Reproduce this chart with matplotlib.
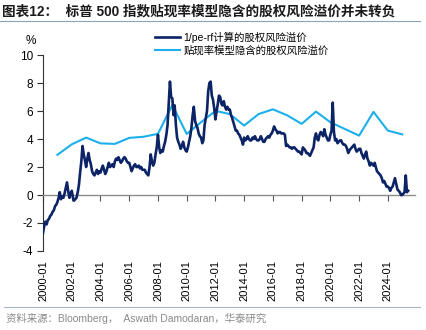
import numpy as np
import pandas as pd
import matplotlib
matplotlib.use("Agg")
import matplotlib.pyplot as plt
import matplotlib.dates as mdates
from matplotlib.transforms import blended_transform_factory

plt.rcParams["font.family"] = ["Liberation Sans", "Noto Sans CJK SC", "DejaVu Sans"]

# 1/PE - 无风险利率，月度，2000-01 至 2025-06
pe_rf_months = pd.date_range("2000-01-01", "2025-06-01", freq="MS")
pe_rf_values = [
    -2.7, -2.2, -1.9, -2.1, -1.8, -1.7, -1.5, -1.4, -1.2, -1.1, -0.8, -0.7,   # 2000
    -0.5, -0.2, 0.2, -0.3, -0.1, -0.2, 0.1, 0.5, 0.9, 0.3, -0.2, 0.1,         # 2001
    0.3, -0.2, -0.4, -0.3, -0.2, 0.2, 0.7, 1.6, 2.4, 3.5, 2.9, 2.5,           # 2002
    2.0, 2.6, 3.0, 2.5, 2.2, 1.7, 1.5, 1.4, 1.6, 1.8, 1.5, 1.7,               # 2003
    1.6, 1.9, 2.1, 1.8, 1.5, 1.7, 2.0, 2.3, 2.0, 2.1, 2.2, 2.0,               # 2004
    2.4, 2.6, 2.5, 2.7, 2.5, 2.3, 2.4, 2.6, 2.7, 2.6, 2.4, 2.3,               # 2005
    2.3, 2.0, 1.7, 1.9, 2.1, 2.2, 2.0, 2.0, 2.1, 1.9, 2.0, 1.8,               # 2006
    1.8, 1.8, 1.6, 1.5, 1.4, 2.0, 2.9, 2.4, 2.1, 2.3, 2.9, 3.4,               # 2007
    4.3, 3.4, 3.0, 3.2, 3.1, 3.5, 3.8, 4.3, 5.0, 6.5, 8.1, 7.0,               # 2008
    6.9, 5.7, 6.4, 5.0, 4.1, 3.8, 3.6, 3.3, 3.5, 3.8, 3.4, 3.2,               # 2009
    3.1, 3.4, 3.8, 4.2, 4.8, 5.7, 6.3, 5.3, 5.0, 4.8, 4.4, 4.2,               # 2010
    4.1, 3.7, 3.9, 5.0, 5.5, 6.0, 7.4, 8.0, 8.1, 7.1, 6.8, 6.2,               # 2011
    5.4, 6.0, 6.5, 7.1, 7.0, 6.5, 6.4, 6.7, 6.3, 6.1, 6.3, 6.1,               # 2012
    6.1, 5.7, 5.5, 5.2, 4.9, 4.6, 4.6, 4.4, 4.3, 4.1, 3.9, 3.6,               # 2013
    4.1, 3.9, 4.0, 4.2, 4.0, 3.9, 3.9, 4.1, 4.0, 4.2, 4.0, 3.9,               # 2014
    3.9, 4.0, 4.2, 4.0, 3.8, 3.8, 4.0, 4.1, 4.2, 4.1, 4.3, 4.4,               # 2015
    4.6, 4.9, 4.7, 4.6, 4.4, 4.5, 4.5, 4.4, 4.4, 4.4, 4.3, 3.5,               # 2016
    3.6, 3.5, 3.4, 3.4, 3.3, 3.4, 3.4, 3.3, 3.2, 3.1, 3.1, 3.0,               # 2017
    2.9, 3.4, 3.3, 3.2, 3.0, 3.0, 2.9, 2.8, 3.0, 3.2, 3.4, 4.1,               # 2018
    4.4, 4.0, 3.9, 4.3, 4.5, 4.4, 4.2, 4.7, 4.3, 4.1, 3.9, 3.9,               # 2019
    4.3, 4.6, 6.6, 4.5, 3.9, 4.0, 3.7, 3.8, 3.9, 3.9, 3.7, 3.6,               # 2020
    3.6, 3.5, 3.3, 3.0, 3.2, 3.3, 3.4, 3.5, 3.6, 3.3, 3.1, 3.2,               # 2021
    3.3, 3.3, 3.0, 2.8, 2.6, 2.9, 3.1, 2.6, 2.4, 2.1, 2.3, 2.2,               # 2022
    2.1, 2.3, 2.0, 1.7, 1.6, 1.5, 1.4, 1.2, 0.9, 1.0, 0.8, 0.6,               # 2023
    0.6, 0.5, 0.3, 0.5, 0.6, 0.9, 1.2, 0.8, 0.4, 0.3, 0.2, 0.0,               # 2024
    0.0, 0.1, 0.2, 1.4, 0.2, 0.3,                                             # 2025
]

# 贴现率模型隐含的股权风险溢价（年度，画在次年年初）
implied_years = list(range(2001, 2026))
implied_values = [
    2.87, 3.62, 4.10, 3.69, 3.65, 4.08, 4.16, 4.37, 6.43, 4.36, 5.20, 6.01, 5.78,
    4.96, 5.78, 6.12, 5.69, 5.08, 5.96, 5.20, 4.72, 4.24, 5.94, 4.60, 4.33,
]

y_ticks = [-4, -2, 0, 2, 4, 6, 8, 10]
x_tick_years = list(range(2000, 2025, 2))

dark_blue = "#0c2366"
light_blue = "#1bb0ea"

fig = plt.figure(figsize=(4.26, 3.30), dpi=100)
ax = fig.add_axes([0.101, 0.2394, 0.874, 0.5939])

implied_dates = pd.to_datetime([f"{y}-01-01" for y in implied_years])

ax.plot(pe_rf_months, pe_rf_values, color=dark_blue, linewidth=1.9,
        label="1/pe-rf计算的股权风险溢价", zorder=3)
ax.plot(implied_dates, implied_values, color=light_blue, linewidth=1.5,
        label="贴现率模型隐含的股权风险溢价", zorder=2)

ax.set_ylim(-4, 10)
ax.set_xlim(pd.Timestamp("2000-01-01"), pd.Timestamp("2025-12-01"))
ax.set_yticks(y_ticks)
ax.set_yticklabels([str(v) for v in y_ticks], fontsize=8.5)

for side in ["top", "right"]:
    ax.spines[side].set_visible(False)
ax.spines["left"].set_color("#333333")
ax.spines["left"].set_linewidth(0.8)
ax.spines["bottom"].set_position(("data", 0))
ax.spines["bottom"].set_color("#8c8c8c")
ax.spines["bottom"].set_linewidth(1.0)

tick_dates = pd.to_datetime([f"{y}-01-01" for y in x_tick_years])
ax.set_xticks(tick_dates)
ax.tick_params(axis="x", direction="out", length=4, width=0.8, color="#555555",
               labelbottom=False)
ax.tick_params(axis="y", direction="out", length=4, width=0.8, color="#333333", pad=3)

# 日期标签放在图底部，竖排
trans = blended_transform_factory(ax.transData, ax.transAxes)
for d in tick_dates:
    ax.text(mdates.date2num(d), -0.045, d.strftime("%Y-%m"), transform=trans,
            rotation=90, ha="center", va="top", fontsize=8)

ax.text(-0.02, 1.04, "%", transform=ax.transAxes, ha="right", va="bottom", fontsize=8.5)

leg = ax.legend(loc="upper left", bbox_to_anchor=(0.29, 1.14), frameon=False,
                prop={"family": ["Liberation Sans", "Noto Sans CJK SC"], "size": 7.5},
                handlelength=2.4, handletextpad=0.3, labelspacing=0.25,
                borderaxespad=0)

# 标题与分隔线
fig.text(0.005, 0.965, "图表12：  标普 500 指数贴现率模型隐含的股权风险溢价并未转负",
         fontsize=9.8, fontweight="bold", color="#1a1a1a", va="center",
         family=["Liberation Sans", "Noto Sans CJK SC"])
fig.add_artist(plt.Line2D([0.0, 0.985], [0.937, 0.937], color="#8ea2b8", linewidth=0.8))
fig.add_artist(plt.Line2D([0.01, 0.985], [0.07, 0.07], color="#a8b6c6", linewidth=0.8))
fig.text(0.015, 0.035, "资料来源：Bloomberg，  Aswath Damodaran，华泰研究",
         fontsize=7.5, color="#8a8a8a", va="center",
         family=["Liberation Sans", "Noto Sans CJK SC"])

fig.savefig("out.png", dpi=100)
